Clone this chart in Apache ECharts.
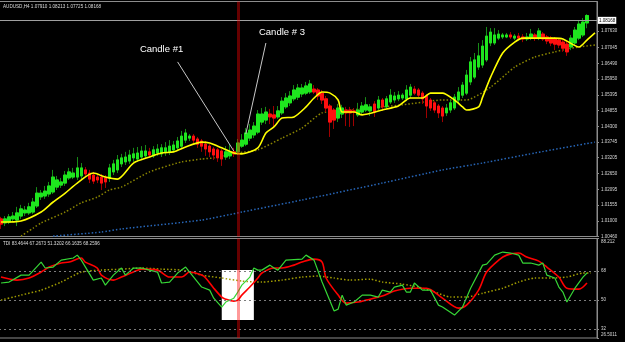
<!DOCTYPE html>
<html>
<head>
<meta charset="utf-8">
<script src="https://cdn.jsdelivr.net/npm/echarts@6/dist/echarts.min.js"></script>
<style>
html, body { margin: 0; padding: 0; background: #000; }
#myCharts { width: 625px; height: 342px; }
</style>
</head>
<body>
<div id="myCharts"></div>
<script>
// AUDUSD H4 bars: [open, close, low, high]
const candles = [
  [1.0107,1.0089,1.0072,1.0114],[1.0093,1.0107,1.0082,1.0117],[1.0096,1.0114,1.0089,1.0124],[1.0107,1.0117,1.0096,1.0131],
  [1.0103,1.0128,1.0082,1.0149],[1.0117,1.0142,1.0107,1.0156],[1.0128,1.0138,1.0117,1.0152],[1.0128,1.0149,1.0121,1.0163],
  [1.0131,1.0166,1.0124,1.0180],[1.0152,1.0197,1.0145,1.0218],[1.0184,1.0197,1.0173,1.0208],[1.0187,1.0204,1.0177,1.0222],
  [1.0194,1.0222,1.0184,1.0236],[1.0201,1.0253,1.0194,1.0278],[1.0218,1.0243,1.0208,1.0257],[1.0225,1.0236,1.0215,1.0250],
  [1.0232,1.0260,1.0222,1.0274],[1.0250,1.0271,1.0243,1.0285],[1.0253,1.0267,1.0246,1.0285],[1.0253,1.0285,1.0243,1.0323],
  [1.0257,1.0285,1.0246,1.0302],[1.0278,1.0264,1.0253,1.0288],[1.0267,1.0246,1.0232,1.0278],[1.0260,1.0239,1.0229,1.0271],
  [1.0253,1.0243,1.0232,1.0264],[1.0253,1.0232,1.0208,1.0264],[1.0250,1.0236,1.0215,1.0260],[1.0250,1.0285,1.0236,1.0299],
  [1.0271,1.0299,1.0260,1.0313],[1.0278,1.0313,1.0267,1.0330],[1.0299,1.0320,1.0288,1.0334],[1.0306,1.0323,1.0295,1.0341],
  [1.0309,1.0330,1.0299,1.0348],[1.0320,1.0334,1.0306,1.0355],[1.0316,1.0337,1.0306,1.0358],[1.0323,1.0344,1.0313,1.0361],
  [1.0327,1.0344,1.0316,1.0365],[1.0341,1.0330,1.0320,1.0355],[1.0327,1.0348,1.0320,1.0361],[1.0337,1.0351,1.0327,1.0368],
  [1.0334,1.0355,1.0323,1.0368],[1.0341,1.0355,1.0327,1.0375],[1.0341,1.0361,1.0330,1.0382],[1.0348,1.0365,1.0341,1.0379],
  [1.0355,1.0379,1.0344,1.0393],[1.0361,1.0396,1.0351,1.0414],[1.0382,1.0407,1.0372,1.0421],[1.0389,1.0396,1.0379,1.0403],
  [1.0396,1.0382,1.0372,1.0403],[1.0386,1.0368,1.0355,1.0393],[1.0379,1.0361,1.0341,1.0386],[1.0368,1.0351,1.0327,1.0379],
  [1.0361,1.0341,1.0323,1.0368],[1.0351,1.0330,1.0313,1.0358],[1.0348,1.0320,1.0306,1.0355],[1.0344,1.0316,1.0292,1.0351],
  [1.0323,1.0341,1.0313,1.0361],[1.0327,1.0341,1.0316,1.0368],[1.0341,1.0334,1.0323,1.0355],[1.0341,1.0372,1.0330,1.0386],
  [1.0361,1.0382,1.0355,1.0403],[1.0368,1.0407,1.0361,1.0424],[1.0389,1.0417,1.0379,1.0438],[1.0400,1.0431,1.0389,1.0445],
  [1.0410,1.0473,1.0403,1.0487],[1.0445,1.0473,1.0435,1.0494],[1.0452,1.0480,1.0438,1.0498],[1.0473,1.0463,1.0438,1.0491],
  [1.0470,1.0459,1.0428,1.0501],[1.0463,1.0484,1.0456,1.0501],[1.0477,1.0518,1.0470,1.0532],[1.0498,1.0529,1.0491,1.0546],
  [1.0512,1.0536,1.0501,1.0553],[1.0526,1.0557,1.0518,1.0574],[1.0532,1.0564,1.0522,1.0578],[1.0543,1.0564,1.0532,1.0578],
  [1.0546,1.0571,1.0539,1.0585],[1.0550,1.0578,1.0543,1.0592],[1.0560,1.0550,1.0543,1.0574],[1.0557,1.0536,1.0522,1.0564],
  [1.0546,1.0522,1.0508,1.0557],[1.0526,1.0494,1.0480,1.0536],[1.0501,1.0445,1.0393,1.0508],[1.0487,1.0452,1.0421,1.0494],
  [1.0459,1.0494,1.0445,1.0508],[1.0473,1.0494,1.0459,1.0505],[1.0487,1.0477,1.0431,1.0498],[1.0487,1.0477,1.0428,1.0498],
  [1.0484,1.0480,1.0431,1.0494],[1.0470,1.0487,1.0463,1.0512],[1.0480,1.0501,1.0470,1.0515],[1.0487,1.0505,1.0480,1.0532],
  [1.0484,1.0498,1.0466,1.0508],[1.0508,1.0480,1.0463,1.0518],[1.0494,1.0522,1.0487,1.0536],[1.0522,1.0498,1.0484,1.0529],
  [1.0498,1.0526,1.0491,1.0536],[1.0515,1.0539,1.0508,1.0560],[1.0522,1.0536,1.0512,1.0550],[1.0526,1.0539,1.0518,1.0553],
  [1.0529,1.0539,1.0522,1.0546],[1.0526,1.0557,1.0518,1.0574],[1.0539,1.0567,1.0529,1.0578],[1.0560,1.0546,1.0539,1.0571],
  [1.0557,1.0539,1.0532,1.0564],[1.0546,1.0526,1.0508,1.0553],[1.0536,1.0501,1.0459,1.0543],[1.0522,1.0494,1.0484,1.0529],
  [1.0512,1.0487,1.0477,1.0518],[1.0501,1.0477,1.0459,1.0508],[1.0494,1.0466,1.0445,1.0501],[1.0477,1.0494,1.0466,1.0508],
  [1.0487,1.0512,1.0477,1.0522],[1.0494,1.0532,1.0487,1.0543],[1.0522,1.0550,1.0512,1.0567],[1.0539,1.0574,1.0529,1.0585],
  [1.0546,1.0609,1.0539,1.0627],[1.0585,1.0655,1.0574,1.0672],[1.0602,1.0662,1.0595,1.0686],[1.0637,1.0676,1.0627,1.0721],
  [1.0644,1.0710,1.0634,1.0731],[1.0662,1.0745,1.0655,1.0777],[1.0721,1.0759,1.0710,1.0773],[1.0721,1.0749,1.0714,1.0773],
  [1.0738,1.0752,1.0731,1.0766],[1.0742,1.0749,1.0735,1.0756],[1.0742,1.0749,1.0738,1.0756],[1.0749,1.0742,1.0735,1.0759],
  [1.0738,1.0745,1.0731,1.0752],[1.0745,1.0738,1.0731,1.0756],[1.0742,1.0735,1.0724,1.0752],[1.0735,1.0742,1.0728,1.0756],
  [1.0738,1.0752,1.0731,1.0770],[1.0749,1.0738,1.0728,1.0756],[1.0738,1.0763,1.0731,1.0773],[1.0752,1.0735,1.0728,1.0759],
  [1.0742,1.0728,1.0717,1.0749],[1.0738,1.0721,1.0710,1.0745],[1.0735,1.0717,1.0696,1.0742],[1.0731,1.0714,1.0703,1.0738],
  [1.0724,1.0703,1.0690,1.0731],[1.0717,1.0690,1.0676,1.0728],[1.0707,1.0738,1.0696,1.0749],[1.0721,1.0766,1.0714,1.0777],
  [1.0738,1.0787,1.0731,1.0801],[1.0749,1.0794,1.0742,1.0808],[1.07910,1.08168,1.07725,1.08213]
];
const emptySlots = 2; // chart shift on the right

// moving averages on price: [bar, price]
const fastMA = [[0,1.0096],[5,1.0100],[10,1.0131],[13,1.0166],[16,1.0197],[19,1.0232],[23,1.0267],[26,1.0253],[29,1.0246],
  [33,1.0302],[37,1.0323],[40,1.0337],[43,1.0341],[46,1.0358],[50,1.0375],[52,1.0372],[55,1.0355],[58,1.0337],[60,1.0334],
  [64,1.0355],[66,1.0407],[68,1.0428],[70,1.0459],[73,1.0463],[76,1.0498],[78,1.0529],[80,1.0550],[82,1.0546],[84,1.0522],
  [85,1.0480],[88,1.0480],[90,1.0470],[95,1.0487],[99,1.0501],[102,1.0529],[105,1.0529],[107,1.0546],[110,1.0546],[113,1.0522],
  [115,1.0498],[116,1.0487],[119,1.0498],[120,1.0532],[122,1.0602],[125,1.0686],[128,1.0724],[130,1.0738],[138,1.0738],
  [140,1.0735],[144,1.0707],[146,1.0731],[148,1.0756]];
const slowMA = [[5,1.0047],[8,1.0075],[10,1.0093],[16,1.0131],[20,1.0163],[24,1.0183],[27,1.0208],[30,1.0218],[37,1.0271],
  [45,1.0306],[50,1.0316],[53,1.0320],[59,1.0337],[64,1.0348],[70,1.0389],[75,1.0424],[80,1.0477],[87,1.0487],[100,1.0505],
  [110,1.0522],[116,1.0522],[122,1.0567],[128,1.0637],[133,1.0672],[138,1.0690],[142,1.0703],[148,1.0714]];
const longMA = [[13,1.0047],[25,1.0061],[30,1.0072],[50,1.0103],[60,1.0131],[75,1.0173],[95,1.0232],[110,1.0278],
  [120,1.0302],[133,1.0337],[148,1.0375]];

// TDI sub-window: [bar, value]
const tdiPrice = [[0,60.6],[2,61.2],[5,65.5],[7,65.5],[10,73.6],[11,69.9],[13,70.5],[15,74.8],[18,76.1],[19,77.9],[20,74.8],
  [23,62.4],[25,63.7],[26,59.3],[28,65.5],[30,69.9],[31,65.5],[33,69.9],[35,69.9],[37,68.6],[39,67.4],[40,60.6],[42,61.2],
  [44,66.8],[46,70.5],[47,67.4],[48,64.3],[50,58.1],[52,56.2],[53,51.2],[55,45.7],[56,48.8],[58,51.2],[59,55.0],[60,59.3],
  [62,64.3],[63,69.9],[64,68.6],[65,68.6],[67,71.7],[68,69.9],[69,68.6],[71,74.8],[75,75.4],[76,77.9],[78,74.8],[80,61.2],
  [83,43.2],[84,44.4],[85,53.1],[86,46.9],[88,48.8],[90,53.1],[92,53.1],[94,51.9],[95,56.2],[97,55.0],[98,58.1],[100,59.3],
  [101,55.0],[102,55.0],[103,60.6],[105,56.2],[107,56.2],[109,46.9],[110,45.7],[113,40.7],[115,45.7],[117,57.4],[120,71.7],
  [121,72.3],[123,77.9],[125,79.8],[127,79.2],[129,77.9],[130,73.0],[132,73.0],[134,71.7],[135,73.0],[136,65.5],[138,63.7],
  [139,58.1],[140,55.0],[141,48.8],[143,57.4],[145,64.3],[146,66.8]];
const tdiSignal = [[0,64.3],[4,62.4],[7,63.7],[10,67.4],[12,70.5],[15,73.0],[17,73.6],[20,76.1],[21,73.6],[24,69.9],[25,65.5],
  [28,62.4],[30,64.3],[33,67.4],[35,69.2],[39,68.6],[42,64.3],[45,64.3],[47,67.4],[50,65.5],[51,63.7],[53,57.4],[55,51.9],
  [56,50.6],[58,49.4],[59,50.0],[60,53.1],[62,58.1],[64,63.7],[65,66.8],[68,69.9],[70,69.9],[73,71.7],[75,73.6],[78,75.4],
  [80,73.6],[81,63.7],[84,53.1],[86,48.1],[89,48.8],[91,50.0],[95,52.5],[98,55.6],[102,57.4],[106,57.4],[110,51.2],[114,45.0],
  [116,46.9],[119,56.2],[121,67.4],[124,74.8],[126,77.9],[129,79.2],[131,76.7],[134,74.2],[136,70.5],[139,64.3],[141,57.4],
  [144,56.8],[146,60.6]];
const tdiBase = [[0,50.0],[5,53.1],[10,56.2],[15,61.2],[20,67.4],[25,68.6],[30,69.2],[35,69.9],[40,69.2],[45,68.6],[50,65.5],
  [55,63.7],[60,61.8],[65,61.2],[70,62.4],[75,64.3],[79,64.9],[83,63.7],[87,62.4],[92,63.0],[95,61.2],[100,59.9],[104,58.1],
  [108,55.0],[112,51.9],[116,51.9],[120,54.3],[125,57.4],[129,61.2],[133,63.7],[137,63.7],[141,64.3],[145,66.8],[147,66.8]];
const tdiLevels = [68, 50, 32];
const tdiReadout = ['83.4644', '67.2673', '51.3202', '66.1635', '68.2596'];

// tick labels
const priceTicks = [1.07630, 1.07045, 1.06490, 1.05950, 1.05395, 1.04855, 1.04300, 1.03745, 1.03205,
  1.02650, 1.02095, 1.01555, 1.01000, 1.00460];
const tdiTicks = [88.212, 68, 50, 32, 26.5011];

// annotations
const markedBar = 59;
const notes = [
  { name: 'Candle #1', at: [40, 1.0700], from: [44, 1.0655], to: [58, 1.0344] },
  { name: 'Candle # 3', at: [70, 1.0759], from: [66, 1.0721], to: [61, 1.0403] }
];
const boxBars = [55, 63];
const boxLevels = [68.6, 37.6];

const categories = candles.map((_, i) => String(i)).concat(['', ''].slice(0, emptySlots));
const bodies = candles.map(([o, c]) => [o, c, Math.min(o, c), Math.max(o, c)]);
const last = candles[candles.length - 1];
const fmt = v => v.toFixed(5);

const font = 'Liberation Sans';
const frame = '#8c8c8c';
const labelColor = '#d8d8d8';
const upColor = '#1ee61e', downColor = '#ff1010';

const myCharts = echarts.init(document.getElementById('myCharts'));
const option = {
  animation: false,
  backgroundColor: '#000',
  title: [
    {
      text: `AUDUSD,H4 ${fmt(last[0])} ${fmt(last[3])} ${fmt(last[2])} ${fmt(last[1])}`,
      left: 3, top: 4, padding: 0,
      textStyle: { color: '#dcdcdc', fontSize: 4.6, fontWeight: 'normal', fontFamily: font }
    },
    {
      text: 'TDI ' + tdiReadout.join(' '),
      left: 3, top: 241.5, padding: 0,
      textStyle: { color: '#dcdcdc', fontSize: 4.6, fontWeight: 'normal', fontFamily: font }
    }
  ],
  grid: [
    { left: -1, top: 1.5, width: 598, height: 235, show: true, borderColor: frame, borderWidth: 1,
      backgroundColor: 'transparent', containLabel: false, outerBoundsMode: 'none' },
    { left: -1, top: 238.5, width: 598, height: 99.5, show: true, borderColor: frame, borderWidth: 1,
      backgroundColor: 'transparent', containLabel: false, outerBoundsMode: 'none' }
  ],
  xAxis: [
    { gridIndex: 0, type: 'category', data: categories, boundaryGap: true, show: false },
    { gridIndex: 1, type: 'category', data: categories, boundaryGap: true, show: false }
  ],
  yAxis: [
    {
      gridIndex: 0, type: 'value', position: 'right', min: 1.00456, max: 1.08658,
      axisLine: { show: true, lineStyle: { color: frame } },
      axisTick: { show: true, length: 2, customValues: priceTicks, lineStyle: { color: frame } },
      axisLabel: { customValues: priceTicks, formatter: v => v.toFixed(5), color: labelColor,
        fontSize: 4.5, margin: 4, fontFamily: font },
      splitLine: { show: false }
    },
    {
      gridIndex: 1, type: 'value', position: 'right', min: 26.5011, max: 88.212,
      axisLine: { show: true, lineStyle: { color: frame } },
      axisTick: { show: true, length: 2, customValues: tdiTicks, lineStyle: { color: frame } },
      axisLabel: {
        customValues: tdiTicks, color: labelColor, fontSize: 4.5, margin: 4, fontFamily: font,
        // top / bottom values sit inside the window like in MT4
        formatter: v => v === tdiTicks[0] ? `{top|${v}}` : v === tdiTicks[tdiTicks.length - 1] ? `{bot|${v}}` : String(v),
        rich: {
          top: { padding: [6, 0, 0, 0], color: labelColor, fontSize: 4.5, fontFamily: font },
          bot: { padding: [0, 0, 6, 0], color: labelColor, fontSize: 4.5, fontFamily: font }
        }
      },
      splitLine: { show: false }
    }
  ],
  series: [
    {
      name: 'longMA', type: 'line', xAxisIndex: 0, yAxisIndex: 0, data: longMA,
      symbol: 'none', smooth: 0.2, z: 2,
      lineStyle: { color: '#2766b8', width: 1.5, type: [1.5, 2] }
    },
    {
      name: 'slowMA', type: 'line', xAxisIndex: 0, yAxisIndex: 0, data: slowMA,
      symbol: 'none', smooth: 0.2, z: 2,
      lineStyle: { color: '#8a8500', width: 1.5, type: [1.5, 2] }
    },
    {
      // wicks (darker), body drawn again by the next series
      name: 'wicks', type: 'candlestick', xAxisIndex: 0, yAxisIndex: 0, data: candles,
      barWidth: 3, z: 3,
      itemStyle: { color: upColor, color0: downColor, borderColor: '#178c17', borderColor0: '#a00000', borderWidth: 1 },
      markLine: {
        silent: true, symbol: ['none', 'none'], animation: false,
        label: { show: false },
        data: [
          { yAxis: last[1], lineStyle: { color: '#a0a0a0', width: 1, type: 'solid' },
            label: { show: true, position: 'end', formatter: fmt(last[1]), backgroundColor: '#fff', color: '#000',
              fontSize: 4.5, padding: [1, 1], distance: 1, fontFamily: font } },
          { xAxis: markedBar, lineStyle: { color: 'rgba(255,0,0,0.4)', width: 3, type: 'solid' } }
        ].concat(notes.map(n => [
          { coord: n.from, lineStyle: { color: '#c8c8c8', width: 1, type: 'solid' } },
          { coord: n.to }
        ]))
      },
      markPoint: {
        silent: true, symbol: 'circle', symbolSize: 1, animation: false,
        itemStyle: { color: 'rgba(0,0,0,0)' },
        label: { show: true, position: 'inside', formatter: '{b}', color: '#fff', fontSize: 9.5, fontFamily: font },
        data: notes.map(n => ({ name: n.name, coord: n.at }))
      }
    },
    {
      name: 'bodies', type: 'candlestick', xAxisIndex: 0, yAxisIndex: 0, data: bodies,
      barWidth: 3, z: 3,
      itemStyle: { color: upColor, color0: downColor, borderColor: upColor, borderColor0: downColor, borderWidth: 1 }
    },
    {
      name: 'fastMA', type: 'line', xAxisIndex: 0, yAxisIndex: 0, data: fastMA,
      symbol: 'none', smooth: 0.25, z: 4,
      lineStyle: { color: '#ffff00', width: 1.6 }
    },
    {
      name: 'tdiBase', type: 'line', xAxisIndex: 1, yAxisIndex: 1, data: tdiBase,
      symbol: 'none', smooth: 0.2, z: 2,
      lineStyle: { color: '#a09c00', width: 1.5, type: [1.5, 2] },
      markArea: {
        silent: true,
        itemStyle: { color: '#ffffff', opacity: 1 },
        data: [[{ coord: [boxBars[0], boxLevels[0]] }, { coord: [boxBars[1], boxLevels[1]] }]]
      },
      markLine: {
        silent: true, symbol: ['none', 'none'], animation: false,
        label: { show: false },
        data: tdiLevels.map(v => ({ yAxis: v, lineStyle: { color: '#7c7c7c', width: 1, type: [2, 3] } }))
          .concat([{ xAxis: markedBar, lineStyle: { color: 'rgba(255,0,0,0.4)', width: 3, type: 'solid' } }])
      }
    },
    {
      name: 'tdiSignal', type: 'line', xAxisIndex: 1, yAxisIndex: 1, data: tdiSignal,
      symbol: 'none', smooth: 0.3, z: 3,
      lineStyle: { color: '#ff0000', width: 1.6 }
    },
    {
      name: 'tdiPrice', type: 'line', xAxisIndex: 1, yAxisIndex: 1, data: tdiPrice,
      symbol: 'none', smooth: false, z: 4,
      lineStyle: { color: '#36d636', width: 1.2 }
    }
  ]
};
myCharts.setOption(option);
</script>
</body>
</html>
